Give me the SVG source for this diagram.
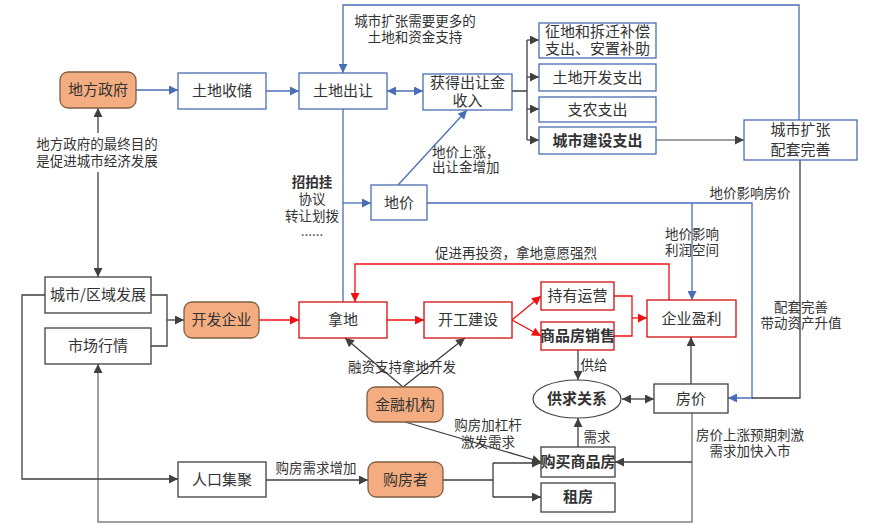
<svg xmlns="http://www.w3.org/2000/svg" width="874" height="529" viewBox="0 0 874 529">
<defs>
<style>
text{font-family:"Noto Sans CJK SC","Liberation Sans",sans-serif;fill:#333;}
.n{font-size:15px;text-anchor:middle;}
.b{font-weight:bold;}
.l{font-size:13.5px;}
.c{text-anchor:middle;}
.bx{fill:#fff;stroke:#4A6EB5;stroke-width:1.3;}
.rx{fill:#fff;stroke:#D01010;stroke-width:1.3;}
.kx{fill:#fff;stroke:#404040;stroke-width:1.3;}
.ox{fill:#F4AD80;stroke:#7F5F44;stroke-width:1.3;}
.cb{fill:none;stroke:#4A6EB5;stroke-width:1.3;}
.cr{fill:none;stroke:#F01010;stroke-width:1.3;}
.ck{fill:none;stroke:#404040;stroke-width:1.3;}
.cg{fill:none;stroke:#808080;stroke-width:1.5;}
</style>
<marker id="mb" viewBox="0 0 10 10" refX="10" refY="5" markerWidth="10" markerHeight="9" orient="auto-start-reverse" markerUnits="userSpaceOnUse"><path d="M0,0 L10,5 L0,10 z" fill="#4A6EB5"/></marker>
<marker id="mr" viewBox="0 0 10 10" refX="10" refY="5" markerWidth="10" markerHeight="9" orient="auto-start-reverse" markerUnits="userSpaceOnUse"><path d="M0,0 L10,5 L0,10 z" fill="#F01010"/></marker>
<marker id="mk" viewBox="0 0 10 10" refX="10" refY="5" markerWidth="10" markerHeight="9" orient="auto-start-reverse" markerUnits="userSpaceOnUse"><path d="M0,0 L10,5 L0,10 z" fill="#404040"/></marker>
</defs>
<rect width="874" height="529" fill="#fff"/>

<g id="connectors">
<path class="cb" d="M136,90 H178" marker-end="url(#mb)"/>
<path class="cb" d="M266,91 H299" marker-end="url(#mb)"/>
<path class="cb" d="M387,91 H423" marker-start="url(#mb)" marker-end="url(#mb)"/>
<path class="ck" d="M512,91 H527 M527,40 V140"/>
<path class="ck" d="M527,40 H539" marker-end="url(#mk)"/>
<path class="ck" d="M527,77 H539" marker-end="url(#mk)"/>
<path class="ck" d="M527,109 H539" marker-end="url(#mk)"/>
<path class="ck" d="M527,140 H539" marker-end="url(#mk)"/>
<path class="cg" d="M656,140 H744" marker-end="url(#mk)"/>
<path class="cb" d="M799,120 V5 H343 V73" stroke="#6F88C0" marker-end="url(#mb)"/>
<path class="cb" d="M343,109 V302"/>
<path class="cb" d="M343,203 H371" marker-end="url(#mb)"/>
<path class="cb" d="M398,185 L467,110" marker-end="url(#mb)"/>
<path class="cb" d="M427,203 H752 V398 H728" marker-end="url(#mb)"/>
<path class="cb" d="M692,203 V300" marker-end="url(#mb)"/>
<path class="ck" d="M800,160 V398 H752"/>
<path class="ck" d="M691,384 V337" marker-end="url(#mk)"/>
<path class="ck" d="M622,399 H654" marker-start="url(#mk)" marker-end="url(#mk)"/>
<path class="ck" d="M578,350 V380" marker-end="url(#mk)"/>
<path class="ck" d="M578,447 V418" marker-end="url(#mk)"/>
<path class="cg" d="M692,413 V522 H98 V364" marker-end="url(#mk)"/>
<path class="ck" d="M692,462 H615" marker-end="url(#mk)"/>
<path class="cr" d="M259,320 H299" marker-end="url(#mr)"/>
<path class="cr" d="M387,320 H424" marker-end="url(#mr)"/>
<path class="cr" d="M512,320 L541,296" marker-end="url(#mr)"/>
<path class="cr" d="M512,320 L541,336" marker-end="url(#mr)"/>
<path class="cr" d="M614,296 H632 V336 H614"/>
<path class="cr" d="M632,318 H647" marker-end="url(#mr)"/>
<path class="cr" d="M669,300 V264 H355 V302" marker-end="url(#mr)"/>
<path class="ck" d="M151,295 H167 V346 H151"/>
<path class="ck" d="M167,320 H184" marker-end="url(#mk)"/>
<path class="ck" d="M98,133 V108" marker-end="url(#mk)"/>
<path class="ck" d="M98,172 V277" marker-end="url(#mk)"/>
<path class="ck" d="M45,295 H22 V479 H178" marker-end="url(#mk)"/>
<path class="ck" d="M266,480 H368" marker-end="url(#mk)"/>
<path class="ck" d="M443,480 H493 M493,463 V497"/>
<path class="ck" d="M493,463 H541" marker-end="url(#mk)"/>
<path class="ck" d="M493,497 H541" marker-end="url(#mk)"/>
<path class="ck" d="M403,387 L345,338" marker-end="url(#mk)"/>
<path class="ck" d="M403,387 L465,338" marker-end="url(#mk)"/>
<path class="ck" d="M405,422 L541,462" marker-end="url(#mk)"/>
</g>

<g id="labels" class="l">
<text class="c" x="415" y="26">城市扩张需要更多的<tspan x="415" dy="16">土地和资金支持</tspan></text>
<text x="432" y="157">地价上涨，<tspan x="432" dy="15">出让金增加</tspan></text>
<text class="c" x="312" y="187"><tspan class="b">招拍挂</tspan><tspan x="312" dy="17">协议</tspan><tspan x="312" dy="17">转让划拨</tspan><tspan x="312" dy="15">......</tspan></text>
<text class="c" x="750" y="198">地价影响房价</text>
<text class="c" x="692" y="239">地价影响<tspan x="692" dy="16">利润空间</tspan></text>
<text x="435" y="258">促进再投资，拿地意愿强烈</text>
<text class="c" x="801" y="312">配套完善<tspan x="801" dy="16">带动资产升值</tspan></text>
<text class="c" x="97" y="149">地方政府的最终目的<tspan x="97" dy="17">是促进城市经济发展</tspan></text>
<text class="c" x="402" y="372">融资支持拿地开发</text>
<text class="c" x="594" y="370">供给</text>
<text class="c" x="597" y="442">需求</text>
<text class="c" x="488" y="430">购房加杠杆<tspan x="488" dy="17">激发需求</tspan></text>
<text class="c" x="750" y="440">房价上涨预期刺激<tspan x="750" dy="16">需求加快入市</tspan></text>
<text class="c" x="316" y="473">购房需求增加</text>
</g>

<g id="n-dfzf"><rect class="ox" x="60" y="72" width="76" height="36" rx="8"/><text class="n" x="98" y="95">地方政府</text></g>
<g id="n-tdsc"><rect class="bx" x="178" y="73" width="88" height="36"/><text class="n" x="222" y="96">土地收储</text></g>
<g id="n-tdcr"><rect class="bx" x="299" y="73" width="88" height="36"/><text class="n" x="343" y="96">土地出让</text></g>
<g id="n-hdcrj"><rect class="bx" x="423" y="74" width="89" height="36"/><text class="n" x="467.5" y="88">获得出让金<tspan x="467.5" dy="18">收入</tspan></text></g>
<g id="n-zd"><rect class="bx" x="539" y="23" width="117" height="35"/><text class="n" x="597.5" y="37" font-size="14">征地和拆迁补偿<tspan x="597.5" dy="17">支出、安置补助</tspan></text></g>
<g id="n-tdkf"><rect class="bx" x="539" y="64" width="117" height="27"/><text class="n" x="597.5" y="82.5" font-size="14">土地开发支出</text></g>
<g id="n-zn"><rect class="bx" x="539" y="97" width="117" height="25"/><text class="n" x="597.5" y="114.5" font-size="14">支农支出</text></g>
<g id="n-csjs"><rect class="bx" x="539" y="127" width="117" height="27"/><text class="n b" x="597.5" y="145.5" font-size="14">城市建设支出</text></g>
<g id="n-cskz"><rect class="bx" x="744" y="120" width="113" height="40"/><text class="n" x="800.5" y="135" font-size="14">城市扩张<tspan x="800.5" dy="20">配套完善</tspan></text></g>
<g id="n-dj"><rect class="bx" x="371" y="185" width="56" height="35"/><text class="n" x="399" y="208">地价</text></g>
<g id="n-nd"><rect class="rx" x="299" y="302" width="88" height="36"/><text class="n" x="343" y="325">拿地</text></g>
<g id="n-kgjs"><rect class="rx" x="424" y="302" width="88" height="36"/><text class="n" x="468" y="325">开工建设</text></g>
<g id="n-cyyy"><rect class="rx" x="541" y="282" width="73" height="28"/><text class="n" x="577.5" y="301" font-size="14">持有运营</text></g>
<g id="n-spfxs"><rect class="rx" x="541" y="322" width="73" height="28"/><text class="n b" x="577.5" y="341" font-size="14">商品房销售</text></g>
<g id="n-qyyl"><rect class="rx" x="647" y="300" width="89" height="37"/><text class="n" x="691.5" y="324">企业盈利</text></g>
<g id="n-kfqy"><rect class="ox" x="184" y="302" width="75" height="36" rx="8"/><text class="n" x="221.5" y="325">开发企业</text></g>
<g id="n-csqy"><rect class="kx" x="45" y="277" width="106" height="36"/><text class="n" x="98" y="300">城市/区域发展</text></g>
<g id="n-schq"><rect class="kx" x="45" y="328" width="106" height="36"/><text class="n" x="98" y="351">市场行情</text></g>
<g id="n-jrjg"><rect class="ox" x="367" y="387" width="76" height="35" rx="8"/><text class="n" x="405" y="410">金融机构</text></g>
<g id="n-gqgx"><ellipse cx="577" cy="399" rx="44" ry="19" fill="#fff" stroke="#404040" stroke-width="1.2"/><text class="n b" x="577" y="404" font-size="14">供求关系</text></g>
<g id="n-fj"><rect class="kx" x="654" y="384" width="74" height="29"/><text class="n" x="691" y="404">房价</text></g>
<g id="n-rkjj"><rect class="kx" x="178" y="462" width="88" height="35"/><text class="n" x="222" y="485">人口集聚</text></g>
<g id="n-gfz"><rect class="ox" x="368" y="462" width="75" height="35" rx="8"/><text class="n" x="405.5" y="485">购房者</text></g>
<g id="n-gmspf"><rect class="kx" x="541" y="447" width="74" height="30"/><text class="n b" x="578" y="467" font-size="14">购买商品房</text></g>
<g id="n-zf"><rect class="kx" x="541" y="483" width="74" height="29"/><text class="n b" x="578" y="502" font-size="14">租房</text></g>
</svg>
